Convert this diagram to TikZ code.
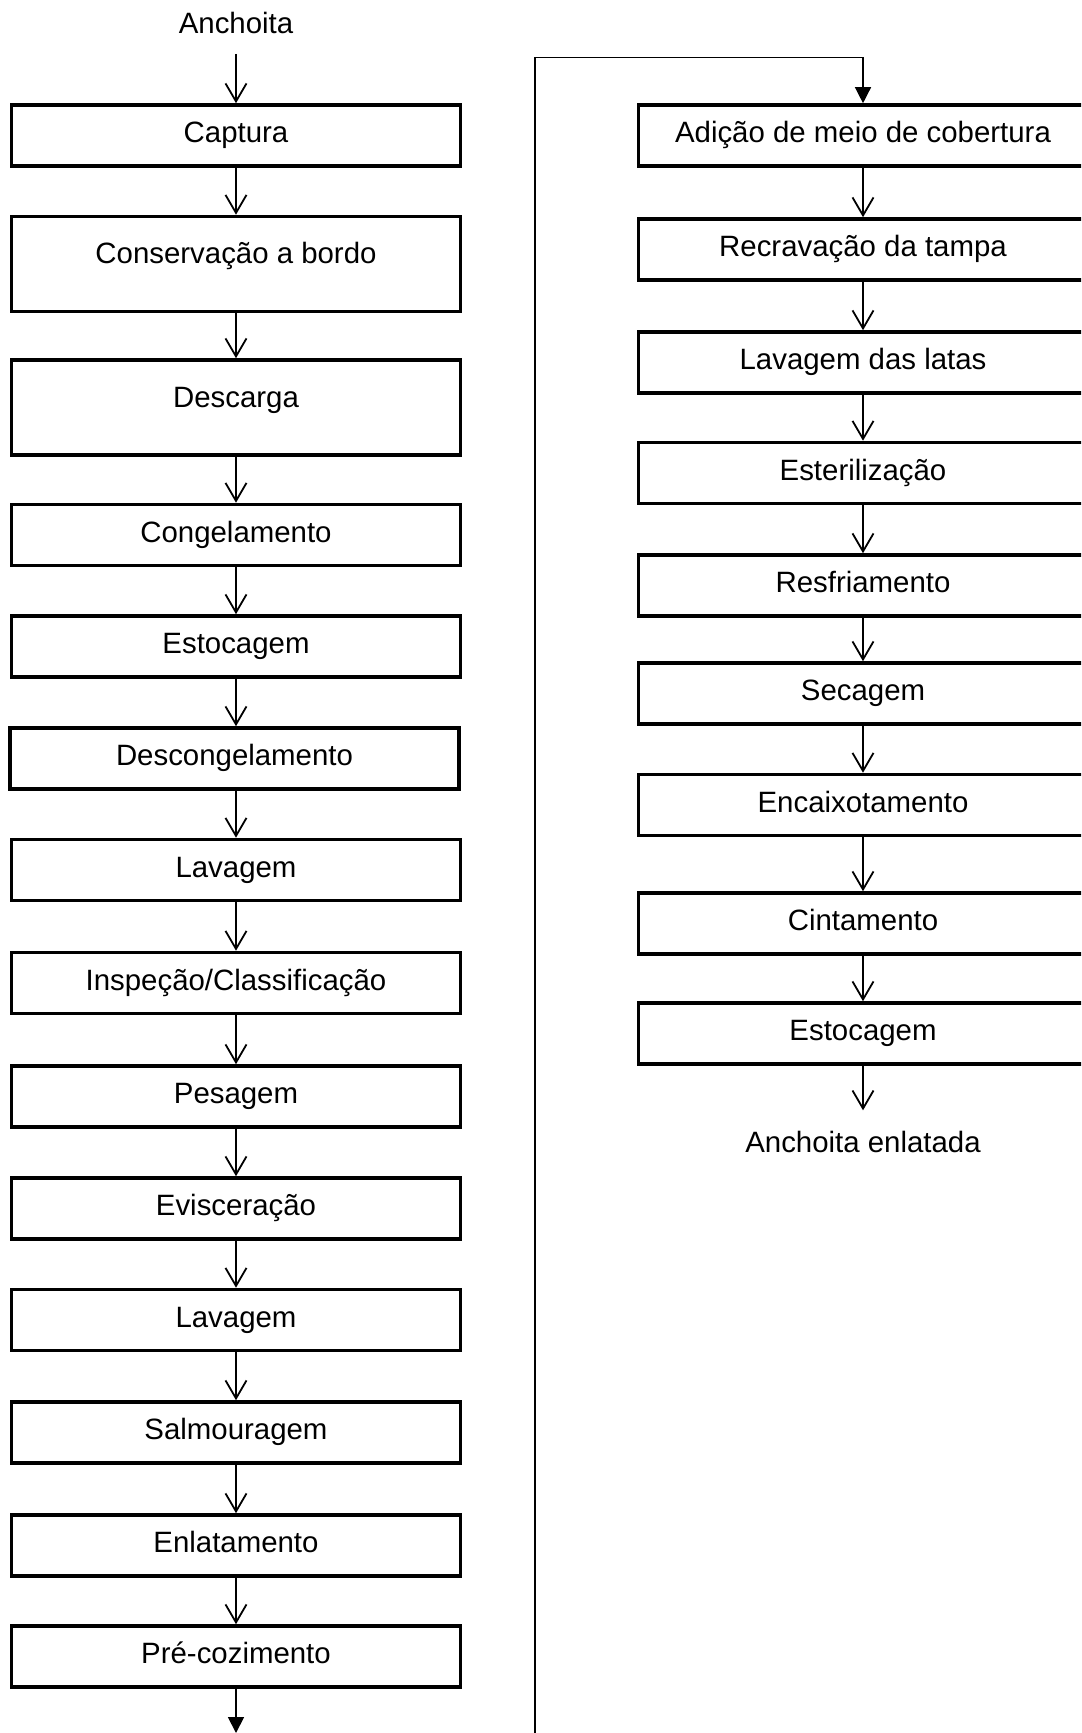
\documentclass[tikz,border=0pt]{standalone}
\usepackage{fontspec}
\setmainfont{Liberation Sans}
\usetikzlibrary{arrows.meta}

\begin{document}
\begin{tikzpicture}[x=0.5pt,y=-0.5pt,
    font=\fontsize{14.7}{17.6}\selectfont,
    stepbox/.style={draw,line width=1.8pt,minimum width=224.5pt,minimum height=30.5pt,
      inner sep=0pt,text height=10pt,text depth=3pt},
    tallbox/.style={stepbox,minimum height=47.5pt,text height=8pt,text depth=8pt},
    endtext/.style={inner sep=10pt,text depth=0pt},
    flow/.style={-{Straight Barb[length=9pt,width=10.5pt]},line width=0.9pt},
    flowend/.style={-{Triangle[length=8pt,width=8pt]},line width=0.9pt},
    link/.style={-{Triangle[length=8pt,width=8pt]},line width=0.7pt}]
      \useasboundingbox (0,0) rectangle (1081,1733);
      \clip (0,0) rectangle (1081,1733);

      \node[endtext,anchor=base] (fonte) at (236,33.5) {Anchoita};
      \node[stepbox] (captura) at (236,135.5) {Captura};
      \node[tallbox] (bordo) at (236,264) {Conservação a bordo};
      \node[tallbox] (descarga) at (236,407.5) {Descarga};
      \node[stepbox] (congel) at (236,535) {Congelamento};
      \node[stepbox] (estoc) at (236,646.5) {Estocagem};
      \node[stepbox] (descongel) at (234.5,758.5) {Descongelamento};
      \node[stepbox] (lavagem) at (236,870) {Lavagem};
      \node[stepbox] (inspecao) at (236,983) {Inspeção/Classificação};
      \node[stepbox] (pesagem) at (236,1096.5) {Pesagem};
      \node[stepbox] (evisc) at (236,1208.5) {Evisceração};
      \node[stepbox] (lavagemb) at (236,1320) {Lavagem};
      \node[stepbox] (salmoura) at (236,1432.5) {Salmouragem};
      \node[stepbox] (enlata) at (236,1545.5) {Enlatamento};
      \node[stepbox] (precoz) at (236,1656.5) {Pré-cozimento};
      \coordinate (pefoot) at (236,1733);

      \node[stepbox] (adicao) at (863,135.5) {Adição de meio de cobertura};
      \node[stepbox] (recrav) at (863,249.5) {Recravação da tampa};
      \node[stepbox] (latas) at (863,362.5) {Lavagem das latas};
      \node[stepbox] (esteril) at (863,473) {Esterilização};
      \node[stepbox] (resfria) at (863,585.5) {Resfriamento};
      \node[stepbox] (secagem) at (863,693.5) {Secagem};
      \node[stepbox] (encaix) at (863,805) {Encaixotamento};
      \node[stepbox] (cinta) at (863,923.5) {Cintamento};
      \node[stepbox] (estocb) at (863,1033.5) {Estocagem};
      \node[endtext,anchor=base] (produto) at (863,1152) {Anchoita enlatada};

      \coordinate (lkfoot) at (535,1733);
      \coordinate (lktop) at (535,57.5);

      \draw[flow] (fonte) -- (captura);
      \draw[flow] (captura) -- (bordo);
      \draw[flow] (bordo) -- (descarga);
      \draw[flow] (descarga) -- (congel);
      \draw[flow] (congel) -- (estoc);
      \draw[flow] (estoc) -- (estoc.south |- descongel.north);
      \draw[flow] (descongel.south -| lavagem) -- (lavagem);
      \draw[flow] (lavagem) -- (inspecao);
      \draw[flow] (inspecao) -- (pesagem);
      \draw[flow] (pesagem) -- (evisc);
      \draw[flow] (evisc) -- (lavagemb);
      \draw[flow] (lavagemb) -- (salmoura);
      \draw[flow] (salmoura) -- (enlata);
      \draw[flow] (enlata) -- (precoz);
      \draw[flowend] (precoz) -- (pefoot);

      \draw[link] (lkfoot) -- (lktop) -| (adicao);
      \draw[flow] (adicao) -- (recrav);
      \draw[flow] (recrav) -- (latas);
      \draw[flow] (latas) -- (esteril);
      \draw[flow] (esteril) -- (resfria);
      \draw[flow] (resfria) -- (secagem);
      \draw[flow] (secagem) -- (encaix);
      \draw[flow] (encaix) -- (cinta);
      \draw[flow] (cinta) -- (estocb);
      \draw[flow] (estocb) -- (produto);
    \end{tikzpicture}
\end{document}
